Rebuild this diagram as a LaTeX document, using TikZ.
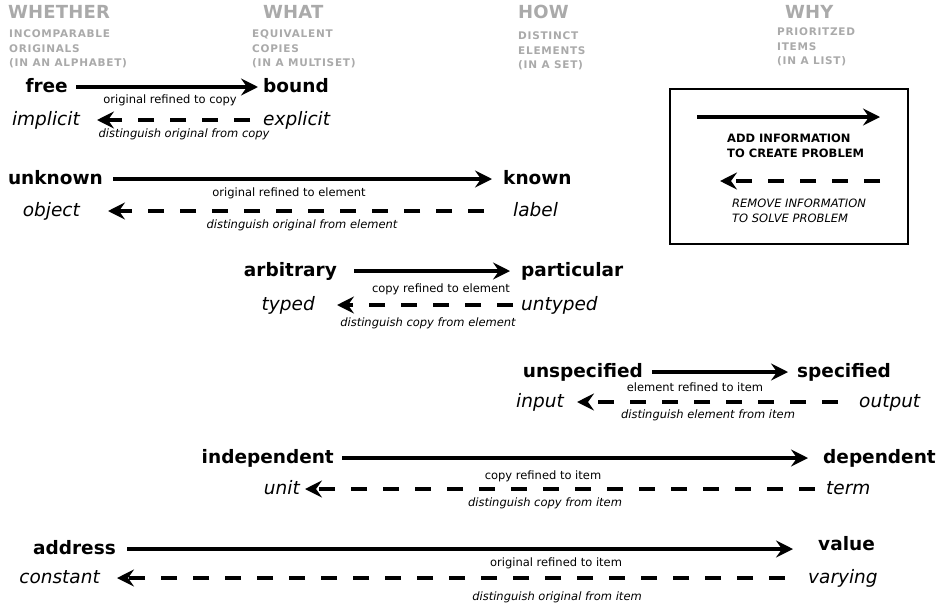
\documentclass[tikz,border=0pt]{standalone}
\usepackage{fontspec}
\setmainfont{DejaVu Sans}
\usetikzlibrary{arrows.meta}
\definecolor{hgray}{HTML}{AAAAAA}
\tikzset{
  word/.style={inner sep=0pt, text height=10pt, text depth=0pt, font=\fontsize{18.5pt}{20pt}\selectfont},
  strong/.style={word, font=\fontsize{18.5pt}{20pt}\selectfont\bfseries},
  weak/.style={word, font=\fontsize{18.5pt}{20pt}\selectfont\itshape},
  lbl/.style={inner sep=0pt, font=\fontsize{11.5pt}{13pt}\selectfont},
  ilbl/.style={lbl, font=\fontsize{11.5pt}{13pt}\selectfont\itshape},
  hdr/.style={inner sep=0pt, anchor=west, text height=13pt, text depth=0pt, text=hgray,
    font=\fontsize{18pt}{20pt}\selectfont\bfseries\addfontfeatures{LetterSpace=1}},
  sub/.style={inner sep=0pt, anchor=north west, align=left, text=hgray,
    font=\fontsize{10.5pt}{14.5pt}\selectfont\bfseries\addfontfeatures{LetterSpace=7}},
  tip/.style={-{Stealth[length=17pt,width=17pt,inset=6pt]}},
  fwd/.style={tip, line width=4pt},
  bwd/.style={tip, line width=4.5pt, dash pattern=on 16pt off 16pt},
}
\begin{document}
\begin{tikzpicture}[x=1pt,y=-1pt]
\useasboundingbox (0,0) rectangle (941,605);

% headers
\node[hdr] (hWhether) at (8,12) {WHETHER};
\node[hdr] (hWhat) at (263,12) {WHAT};
\node[hdr] (hHow) at (518,12) {HOW};
\node[hdr] (hWhy) at (785,12) {WHY};
\node[sub] (sWhether) at (9,30) {INCOMPARABLE\\ORIGINALS\\(IN AN ALPHABET)};
\node[sub] (sWhat) at (252,30) {EQUIVALENT\\COPIES\\(IN A MULTISET)};
\node[sub] (sHow) at (518,32) {DISTINCT\\ELEMENTS\\(IN A SET)};
\node[sub] (sWhy) at (777,28) {PRIORITZED\\ITEMS\\(IN A LIST)};

% row 1
\node[strong, anchor=east] (free) at (68,87) {free};
\node[strong, anchor=west] (bound) at (263,87) {bound};
\node[weak, anchor=east] (implicit) at (80,120) {implicit};
\node[weak, anchor=west] (explicit) at (263,120) {explicit};
\draw[fwd, shorten <=8pt, shorten >=5pt] (free.east) -- (bound.west);
\draw[bwd, shorten <=13pt, shorten >=17pt] (explicit.west) -- (implicit.east);
\node[lbl] (l1a) at (170,100) {original refined to copy};
\node[ilbl] (l1b) at (184,134) {distinguish original from copy};

% row 2
\node[strong, anchor=east] (unknown) at (103,179) {unknown};
\node[strong, anchor=west] (known) at (503,179) {known};
\node[weak, anchor=east] (object) at (80,211) {object};
\node[weak, anchor=west] (label) at (513,211) {label};
\draw[fwd, shorten <=10pt, shorten >=11pt] (unknown.east) -- (known.west);
\draw[bwd, shorten <=29pt, shorten >=28pt] (label.west) -- (object.east);
\node[lbl] (l2a) at (289,193) {original refined to element};
\node[ilbl] (l2b) at (302,225) {distinguish original from element};

% row 3
\node[strong, anchor=east] (arbitrary) at (337,271) {arbitrary};
\node[strong, anchor=west] (particular) at (521,271) {particular};
\node[weak, anchor=east] (typed) at (315,305) {typed};
\node[weak, anchor=west] (untyped) at (521,305) {untyped};
\draw[fwd, shorten <=17pt, shorten >=11pt] (arbitrary.east) -- (particular.west);
\draw[bwd, shorten <=8pt, shorten >=22pt] (untyped.west) -- (typed.east);
\node[lbl] (l3a) at (441,289) {copy refined to element};
\node[ilbl] (l3b) at (428,323) {distinguish copy from element};

% row 4
\node[strong, anchor=east] (unspecified) at (643,372) {unspecified};
\node[strong, anchor=west] (specified) at (797,372) {specified};
\node[weak, anchor=east] (input) at (564,402) {input};
\node[weak, anchor=west] (output) at (859,402) {output};
\draw[fwd, shorten <=9pt, shorten >=9pt] (unspecified.east) -- (specified.west);
\draw[bwd, shorten <=21pt, shorten >=13pt] (output.west) -- (input.east);
\node[lbl] (l4a) at (695,387) {element refined to item};
\node[ilbl] (l4b) at (708,415) {distinguish element from item};

% row 5
\node[strong, anchor=east] (independent) at (334,458) {independent};
\node[strong, anchor=west] (dependent) at (823,458) {dependent};
\node[weak, anchor=east] (unit) at (300,489) {unit};
\node[weak, anchor=west] (term) at (826,489) {term};
\draw[fwd, shorten <=8pt, shorten >=15pt] (independent.east) -- (dependent.west);
\draw[bwd, shorten <=11pt, shorten >=5pt] (term.west) -- (unit.east);
\node[lbl] (l5a) at (543,476) {copy refined to item};
\node[ilbl] (l5b) at (545,503) {distinguish copy from item};

% row 6
\node[strong, anchor=east] (address) at (116,549) {address};
\node[strong, anchor=west] (value) at (818,545) {value};
\node[weak, anchor=east] (constant) at (100,578) {constant};
\node[weak, anchor=west] (varying) at (808,578) {varying};
\draw[fwd, shorten <=11pt, shorten >=25pt] (address.east) -- (address.east -| value.west);
\draw[bwd, shorten <=23pt, shorten >=17pt] (varying.west) -- (constant.east);
\node[lbl] (l6a) at (556,563) {original refined to item};
\node[ilbl] (l6b) at (557,597) {distinguish original from item};

% legend
\node[draw, line width=1.5pt, inner sep=0pt, minimum width=238pt, minimum height=155pt, anchor=north west] (legend) at (669,88) {};
\coordinate (la1) at (697,117);
\coordinate (la2) at (880,117);
\coordinate (lb1) at (880,181);
\coordinate (lb2) at (720,181);
\draw[fwd] (la1) -- (la2);
\draw[bwd] (lb1) -- (lb2);
\node[inner sep=0pt, anchor=north west, align=left, font=\fontsize{11.5pt}{15pt}\selectfont\bfseries] (addinfo) at (727,134) {ADD INFORMATION\\TO CREATE PROBLEM};
\node[inner sep=0pt, anchor=north west, align=left, font=\fontsize{11.5pt}{15pt}\selectfont\itshape] (reminfo) at (732,199) {REMOVE INFORMATION\\TO SOLVE PROBLEM};
\end{tikzpicture}
\end{document}
